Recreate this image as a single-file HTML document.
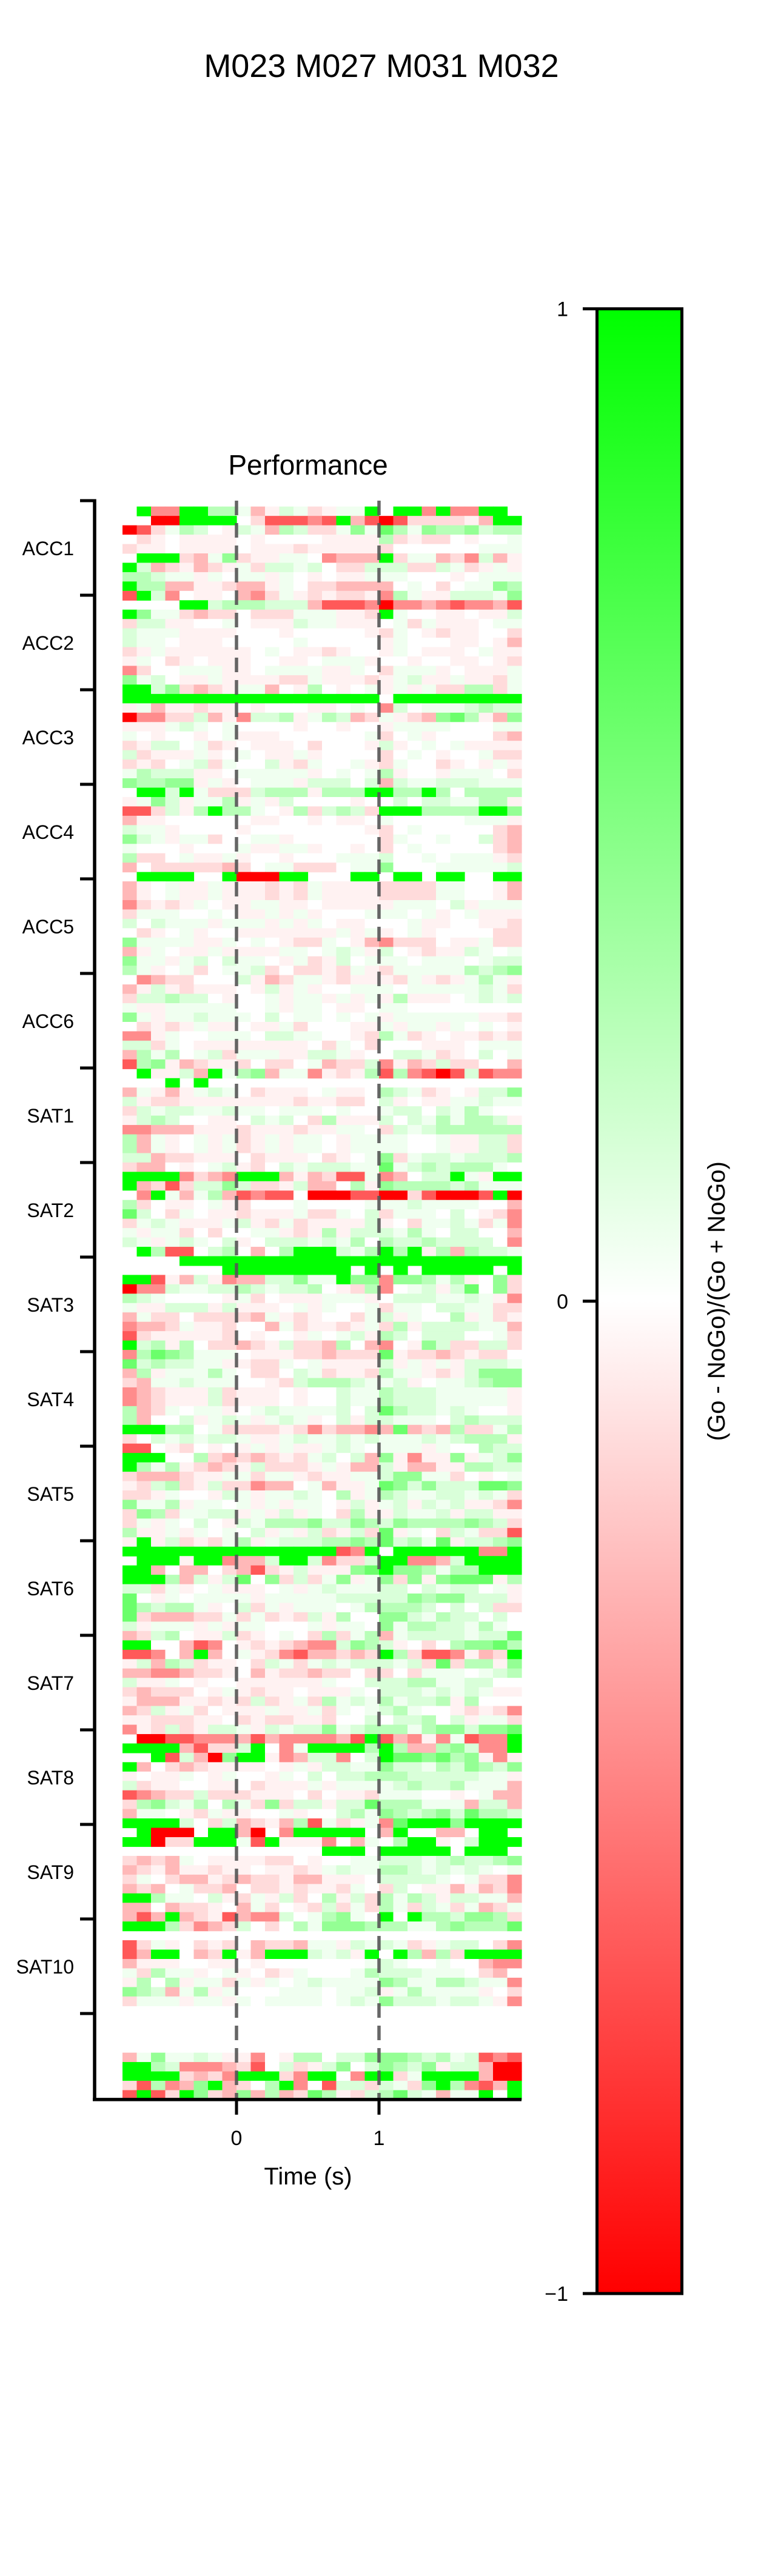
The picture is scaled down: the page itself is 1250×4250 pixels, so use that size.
<!DOCTYPE html>
<html><head><meta charset="utf-8"><title>Performance heatmap</title>
<style>html,body{margin:0;padding:0;background:#fff}svg{display:block}text{font-family:"Liberation Sans",Arial,sans-serif;fill:#000}</style>
</head><body>
<svg id="fig" xmlns="http://www.w3.org/2000/svg" width="1250" height="4250" viewBox="0 0 1250 4250">
<defs><linearGradient id="cbgrad" x1="0" y1="0" x2="0" y2="1"><stop offset="0" stop-color="#00ff00"/><stop offset="0.5" stop-color="#ffffff"/><stop offset="1" stop-color="#ff0000"/></linearGradient></defs>
<rect width="1250" height="4250" fill="#fff"/>
<text x="629" y="127" font-size="54" text-anchor="middle">M023 M027 M031 M032</text>
<text x="508" y="783" font-size="46" text-anchor="middle">Performance</text>
<g id="cells"></g>
<g id="axes"></g>
<g id="cbar"></g>
</svg>
<script>
// ---- data ----
const timeStart = -0.8;
const timeStep = 0.1;
const xTicks = [0, 1];
const xTickLabels = ["0", "1"];
const eventTimes = [0, 1];
const groupLabels = ["ACC1","ACC2","ACC3","ACC4","ACC5","ACC6","SAT1","SAT2","SAT3","SAT4","SAT5","SAT6","SAT7","SAT8","SAT9","SAT10"];
const levelChars = ["R","r","s","t","u","v",".","a","b","c","d","e","G"];
const levelValues = [-1,-0.65,-0.45,-0.28,-0.14,-0.05,0,0.06,0.15,0.28,0.42,0.58,1];
const cbTicks = [1, 0, -1];
const cbTickLabels = ["1", "0", "\u22121"];
const heatRows = [
" GssGGccatvbauvaaG GGsGssGG ",
"  RRGGGG urrrsrGtrRruuuuvtGG",
"Rruacb.vbatcbuuadaecadccdbcc",
".uv.vvvv.v....vvvvcuvuu.v..a",
"uvv.vvvv.vvvuvvvvvu......aaa",
" GGGutaduvvaa.stttGuaatusbtv",
"Gbtuvtuvaubbab.uubbbuubauvav",
"ccbaava.aava.v.vvaaa...v.aaa",
"Gccttvvuttva.uutttt.a.u.aadc",
"rGbs.vv.tsuavuvuuvscavvbbbad",
"    GGbcccbbbtrrrsRsstsrsstr",
"Gdaautuu.uuuaaavvuGa..vv.vvb",
"ubbvv..a.vvvbaavvv.auavvv.aa",
"baaavvvv...v.....vua.vuvv..u",
"baa.vvv.....a.....va...vv.vt",
"uvavvvvvv.a.vvuv..va.vvv.avv",
"va.uv.vvv..vv.aaav..v..vv.vu",
"su..aaavv.aaaavva.uaaav.vvva",
"dab.vvavvvvuuavvvuvabvvavvua",
"GGbdutuvaat.vc.v.avavauuccua",
"GGGGGGGGGGGGGGGGGG GGGGGGGGG",
"vatvvuvv.v...vv.a.sb.aaabcbb",
"Rssuubtvsbbcvacbtuavutdecvtd",
"vvvaba.a....v..v..vaaaa...aa",
"a.v..v.avvv......au.av....ut",
"uvbb.auv.vvv.u...vbv.a.avvvv",
"buvvvav.a.vvav....u.a.v..auu",
"uvu.abua..bvua..avua..uv.vav",
"acbbbvv.aaaaav.a.acv..vaaa.u",
"dccddvav.aaavbbb.btbaabbbaaa",
" GGbGauuubcccvcccGGccGc.cccc",
"vadbvaacvavb....v..b.bbaaccv",
"rrubvcGcca.vcubcbuGGGccccGGd",
"tvv......vv..v.vv.a.....aaav",
"baav....v........vu.a.....ut",
"dbavaau..aav......ua..a..but",
"a...v...avvaav..v.u.a.....ut",
"cuu.avvav..v...aaab..a.aaavu",
"t.uuuuutu.aauuu.aad...aaaaab",
" GGGG  GRRRGG   GG GG GG  GG",
"tv.avvavvvuvuavvvvuuuuaa..vt",
"tv.avvavvvuvuavvvvuuuuaa..vt",
"suvuva.vvaavv.vvvvvaaa.bvaaa",
"uaaa..a.vvavav...aaa.av.avvv",
"b.baaavaaavava.vv...avv..vvu",
".uv.av..vvvvvvvavav.av....uu",
"daaaavva.a.vuua.vtsuuu.vvauu",
"tva.vvavvvvaa.abavb.vuvvba.a",
"daavab.baa.vauvb.aaa.aaa.abb",
"cav.au.aabu.uuvuavuaaaaacbcd",
".stuu...bvtuaavuvvvuavuvacav",
"tvbvuvvv.vbvav..aaa.aaaaabau",
"ubbcbb.v..avaavavavcvvv.abab",
"avvaaaaa..avaa.vv.aa........",
"davaabaaa.b.aa.a.avaaaaaavvu",
".uvuvavv.vvau...vvavaava.a.v",
"ssva..aaa.bbaa..vucauv.vvuvu",
"bbua.vvvvvvvv.ua.u...vvv.aaa",
"tcac.abuaaavvbbav..bbauv.b.a",
"rcdvtuvvu.uu.atuubsvtubuu..t",
" GvvbtGacdtaasvuvcrcsrRrbrss",
"   G G                      ",
"tavtvaba.uvvv.avv.cbauv.vbbd",
"bvuuvvvvvvvvuvvuu.bv.vvaabaa",
"ubabbaabaa.aaa.a..abb.baca..",
"vbcb..vv.bab.ucvvvb.bacaccbv",
"sstttvvvuvvvuvvaa.ubabcccccc",
"ctav.avauvavaa.vaaaa..avvbbu",
"ctav.avauvavaa.vaaaa..avvbbu",
"bbtuuvvv.uvvv.uv.aduabbabbbc",
"utt.v.abvu.babbbaaeabcbccca.",
"GGGGsutsGGGtvturrast.bbGavGG",
"Gturubbdbuuvbtt.cvdccccbcaaa",
".sGatactrsrr.RRRrrRRurRRRrGR",
"cu.vv.avu...a....aaabaaaa..t",
"eb.ua.vvuvvvauua.buaaa.b.vus",
"uabavvvabvuauvvvvbv.uaabauas",
"avaau.u..aavuvcvbbbaca.bb..t",
"bavaba.bv.bbbabac.cbbcbbbb.s",
" Gcrr.bc.t.cGGGbacGcGvctcbba",
"    GGGGGGGGGGGGGGGGGGGGGGGG",
"       GGGGGGGGG G G GGGGG G",
"GGrvtbvsttbbdaaGddsddcacv.du",
"Rssbaabbcbabbc.vucs.abvbe.du",
"cba....vau.vvvaaav.bbbaabavs",
"avvbbbvbvvv.ava..auaa.bbaauu",
"tauu.uuuutavuv..uabva..cvauv",
"sttuavvu..tauvvuvaucvbbbbaat",
"ruvvvvvu.v..va.abvcb.bbb..au",
"Gbcvc.uutuvbuutc.ts.vdbuubbu",
"scedcaaa.vvvuutuuuevuutuvuu.",
"ebcbbaavvuua.avvvvbvavavbbba",
"tcvaaaca.uu.bauvvucaavuvbddd",
"utaabaaa..vubcccbaabv.aabcdd",
"stuvvvbuvvv.v..baacbbbaaaaav",
"stuvvvbuvvv.v..baacbbbaaaaav",
"ctua.aav.abaaaab.becbbaba..v",
"ct..bvabavabav.bvbbaaa.bcbbb",
"GGGcc.auuuuvusuttstetutcuuac",
"u.bababbavvabaababaaababcccv",
"rr.vu.v.vavavvaba.aaava..cbb",
"GGG..cututuvuab.btdvsvvdvabd",
"Gcacvutuvbuuuvavttbvttvvccbb",
"utttuvvaauaavuvvaabddaau.v.a",
"vubcuvbuustt.atvvaedbdbbbeed",
"uuva..vbavaaba.cvacbaabbabau",
"daacvaa.avavaa.vbvabvbabvvus",
"udcuaabbvavbva.ucvvbaabvbbvv",
"uava.b.vbacccdbbdcbdccccdcbu",
"cvvava.a.bvavbuvbueva.ubauur",
"vGvbuvuacvabbbccdcebcaevbbcd",
"GGGGGGGGGGGGGGGrsG GGGGGGssG",
" GGGvGGsttbGGbsuubGGsstbGGGG",
"GGt.tt.utruvbvvvdeGddcaccGGG",
"GGGctbvbe.dubuadvadudvdeeevc",
"bbuav.avvv.avabaaabb.babb.av",
"e.va.aaaavaaaaabbbbbdcddbbbv",
"ecbccav.buavaaa.accccb.b.buu",
"eutttuuauauvubvc..ddbacbb.b.",
"bvaaavavaa...avaa.daccbbaca.",
"tubc.vvbuv.a.ucuactabbbbabbe",
"GG..trs.vuvutssbdcbv.u.cddec",
"rrs.tGt.avusrttutuGcurrsvtuG",
"vbtcbuvv.ubauababbbabueuccvd",
"ttsstuuv.tvuutuu.uu.uaaa.abc",
"bvva.v..vvvvvva..bbbccaabb..",
"utuuu.vavuvv.vvva.bbbababavv",
"vtttvvuvubuvaucabacabbcvc...",
"tubvau.vvvavvaua.abca..vuvus",
"vvuuuvv.uvuuvvu..b.bbc.bvaau",
"svubuvbbavbabbdabcccacddbdde",
" RRrrssstrtsssstrGrtsvsarssG",
"GGGGtruubG.saGGGGcGcttcdbssG",
"  GrbtRdGGvstbbs.bGeedecdvsv",
"Gt.utuvvvv.vavbbaadbbacbdcbd",
"v.vva.va..va.b.bbcccbbbbbaav",
"buvv..vv.uvvvavaaaabcbbcaaat",
"rstuubuuuvvv.u.vvuaaa..v.att",
"ucdbac.caudubbvbbecccaaatbbt",
"taa.vuavv..av..bcadcbcdbeccb",
"GGGGb.ubtuvtcrauvaseGGGdGGGG",
" GRRR GGtR sGGGGG tG  tt GG",
"GGRuuGGGarGvvvs.ta.cGGv.bGGG",
"              GGG GGGGG GGG ",
"ututa.vvvvuu.v..aabbbabcbbcd",
"tuvtvvuvv.vvuvabaaccbababa.a",
"ua.uttvutuuvttvvv.bbbba.auus",
"tut.auut.uuvuvvua.ub.vvtvtus",
"GGcaa.bvuavbu.cvbucacbvbbaat",
"tt.tuuv.tau.vubuaucaubauatua",
"trtGtuvrtssb.acda.G.Gccbddcu",
"GGGcustub.u.cadddcccaacdccce",
"                            ",
"ruav.uvu.tuutaavbabauvabb.us",
"rtGG.tuGvtGGGbabvG.GctcuGGGG",
"tvvv..vv.v.......aba..a..tss",
"aucaav.av.uva...acbbbaaa.ut.",
"vc.cvaauava.abaaaadcaaccbaas",
"dcbtacva...aaa.aabvacaaaav.u",
"uaaavaava.aaaa.abadbbbabbavs",
"                            ",
"                            ",
"                            ",
"                            ",
"                            ",
"tadaabavvs.vcc.bbdddcbcabrsr",
"GGcbssstur.buvbd.bdcbdvbbtRR",
"GGGGutusGGGusGG.sGGuaGGGGtRR",
"urcstdGtu.cGs.rbbubaudGcsrtG",
"rGruGdutdtctuecvubcebataaG.G"
];
// ---- scales ----
const X0 = 390, PX_PER_S = 235;
const Y0 = 835.7, ROW_H = 15.46;
const xScale = t => X0 + t * PX_PER_S;
const yScale = i => Y0 + i * ROW_H;
const tickY = k => 826 + 156 * k;
const CB_TOP = 509.5, CB_BOT = 3784;
const cbScale = v => CB_TOP + (1 - v) / 2 * (CB_BOT - CB_TOP);
function colorOf(v){
  if (v < 0){ const c = Math.round(255*(1+v)); return `rgb(255,${c},${c})`; }
  const c = Math.round(255*(1-v)); return `rgb(${c},255,${c})`;
}
const NS = "http://www.w3.org/2000/svg";
function mk(tag, attrs, parent){ const e = document.createElementNS(NS, tag); for (const k in attrs) e.setAttribute(k, attrs[k]); parent.appendChild(e); return e; }
const cells = document.getElementById('cells');
const axes = document.getElementById('axes');
const cbar = document.getElementById('cbar');
const nRows = heatRows.length;
heatRows.forEach((row, i) => {
  const r = row.padEnd(28, " ").slice(0, 28);
  for (let j = 0; j < 28; j++){
    const idx = levelChars.indexOf(r[j]);
    if (idx < 0) continue;
    const t0 = timeStart + j * timeStep;
    const x1 = xScale(t0), x2 = xScale(t0 + timeStep);
    const cell = mk('rect', {x: x1.toFixed(2), y: yScale(i).toFixed(2), width: (x2 - x1 + 0.6).toFixed(2), height: (ROW_H + 0.6).toFixed(2), fill: colorOf(levelValues[idx])}, cells);
    
    
  }
});
const xLeft = xScale(timeStart), xRight = xScale(timeStart + 28 * timeStep);
const yBottom = yScale(nRows);
eventTimes.forEach(t => {
  const l = mk('line', {x1: xScale(t), x2: xScale(t), y1: 826, y2: yBottom, stroke: '#555', 'stroke-width': 5.5, 'stroke-dasharray': '24 13', 'stroke-opacity': 0.9}, axes);
  
  
});
const ls = mk('line', {x1: 156, x2: 156, y1: tickY(0) - 2.5, y2: yBottom + 2.5, stroke: '#000', 'stroke-width': 5.5}, axes);


const bs = mk('line', {x1: 153, x2: xRight, y1: yBottom, y2: yBottom, stroke: '#000', 'stroke-width': 5.5}, axes);


for (let k = 0; k <= groupLabels.length; k++){
  const tk = mk('line', {x1: 132, x2: 156, y1: tickY(k), y2: tickY(k), stroke: '#000', 'stroke-width': 5}, axes);
  
  
}
groupLabels.forEach((g, k) => {
  const tx = mk('text', {x: 122, y: tickY(k) + 78 + 12, 'font-size': 32, 'text-anchor': 'end'}, axes);
  tx.textContent = g;
  
  
});
xTicks.forEach((t, k) => {
  const tk = mk('line', {x1: xScale(t), x2: xScale(t), y1: yBottom, y2: yBottom + 25, stroke: '#000', 'stroke-width': 5}, axes);
  
  
  const tx = mk('text', {x: xScale(t), y: yBottom + 75, 'font-size': 34, 'text-anchor': 'middle'}, axes);
  tx.textContent = xTickLabels[k];
  
  
});
const xt = mk('text', {x: 508, y: 3604, 'font-size': 40, 'text-anchor': 'middle'}, axes);
xt.textContent = 'Time (s)';


const cb = mk('rect', {x: 984.5, y: CB_TOP, width: 140, height: CB_BOT - CB_TOP, fill: 'url(#cbgrad)', stroke: '#000', 'stroke-width': 5}, cbar);


cbTicks.forEach((v, k) => {
  const tk = mk('line', {x1: 961, x2: 984, y1: cbScale(v), y2: cbScale(v), stroke: '#000', 'stroke-width': 5}, cbar);
  
  
  const tx = mk('text', {x: 937, y: cbScale(v) + 12, 'font-size': 34, 'text-anchor': 'end'}, cbar);
  tx.textContent = cbTickLabels[k];
  
  
});
const cl = mk('text', {x: 0, y: 0, 'font-size': 40, 'text-anchor': 'middle', transform: `translate(1195,${cbScale(0)}) rotate(-90)`}, cbar);
cl.textContent = '(Go - NoGo)/(Go + NoGo)';


</script>
</body></html>
